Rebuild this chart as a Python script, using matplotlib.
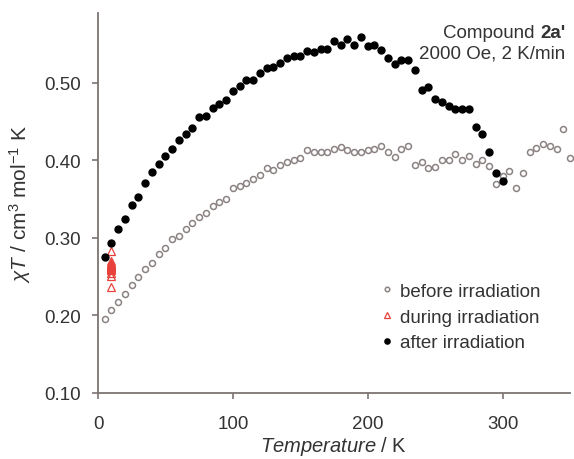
import numpy as np
import matplotlib
matplotlib.use("Agg")
import matplotlib.pyplot as plt
from matplotlib.offsetbox import TextArea, HPacker, VPacker, AnchoredOffsetbox

plt.rcParams['font.family'] = ['Liberation Sans', 'DejaVu Sans']
plt.rcParams['mathtext.fontset'] = 'custom'
plt.rcParams['mathtext.rm'] = 'Liberation Sans'
plt.rcParams['mathtext.it'] = 'Liberation Sans:italic'
plt.rcParams['mathtext.bf'] = 'Liberation Sans:bold'

## datos
T_before = np.arange(5, 355, 5)
chi_before = [0.196, 0.2075, 0.217, 0.228, 0.239, 0.250, 0.260, 0.268, 0.279, 0.287,
              0.298, 0.302, 0.312, 0.319, 0.327, 0.332, 0.341, 0.346, 0.350, 0.364,
              0.367, 0.371, 0.376, 0.381, 0.390, 0.388, 0.394, 0.398, 0.400, 0.403,
              0.413, 0.411, 0.411, 0.411, 0.414, 0.417, 0.413, 0.411, 0.411, 0.413,
              0.415, 0.419, 0.411, 0.404, 0.415, 0.418, 0.394, 0.398, 0.390, 0.392,
              0.400, 0.401, 0.408, 0.401, 0.406, 0.395, 0.401, 0.393, 0.370, 0.380,
              0.386, 0.364, 0.384, 0.411, 0.416, 0.421, 0.419, 0.414, 0.441, 0.403]

T_after = np.arange(5, 305, 5)
chi_after = [0.275, 0.2935, 0.3116, 0.325, 0.342, 0.353, 0.371, 0.385, 0.395, 0.406,
             0.414, 0.4256, 0.434, 0.4416, 0.4557, 0.457, 0.467, 0.473, 0.478, 0.489,
             0.4965, 0.503, 0.504, 0.513, 0.519, 0.520, 0.526, 0.532, 0.534, 0.534,
             0.541, 0.540, 0.543, 0.543, 0.554, 0.549, 0.556, 0.549, 0.559, 0.548,
             0.549, 0.542, 0.532, 0.524, 0.529, 0.529, 0.517, 0.491, 0.494, 0.479,
             0.475, 0.470, 0.466, 0.466, 0.466, 0.443, 0.434, 0.411, 0.384, 0.374]

T_during = [10] * 14
chi_during = [0.283, 0.270, 0.268, 0.266, 0.265, 0.264, 0.263, 0.262, 0.261, 0.260,
              0.258, 0.255, 0.251, 0.237]

gris = '#8c8282'
eje = '#7d7373'
texto = '#333333'

fig = plt.figure(figsize=(5.74, 4.60), dpi=100)
ax = fig.add_axes([98/574, 1 - 394/460, 472/574, 380/460])

ax.plot(T_before, chi_before, 'o', ms=4.3, mfc='none', mec=gris, mew=1.1,
        label='before irradiation', clip_on=False)
ax.plot(T_during, chi_during, '^', ms=5.5, mfc='none', mec='#e8403a', mew=0.9,
        label='during irradiation', clip_on=False)
ax.plot(T_after, chi_after, 'o', ms=5.0, color='black', mec='black',
        label='after irradiation', clip_on=False)

ax.set_xlim(0, 350)
ax.set_ylim(0.10, 0.59)
ax.set_xticks([0, 100, 200, 300])
ax.set_yticks([0.10, 0.20, 0.30, 0.40, 0.50])
ax.set_yticklabels(['0.10', '0.20', '0.30', '0.40', '0.50'])

for s in ['top', 'right']:
    ax.spines[s].set_visible(False)
for s in ['left', 'bottom']:
    ax.spines[s].set_color(eje)
    ax.spines[s].set_linewidth(1.3)
ax.tick_params(axis='both', colors=eje, labelcolor=texto, labelsize=13.5,
               length=4, width=1.2)
ax.tick_params(axis='x', pad=12)
ax.tick_params(axis='y', pad=8)

ax.set_xlabel(r'$\mathit{Temperature}$ / K', fontsize=14.5, color=texto, labelpad=1)
ax.set_ylabel(r'$\chi T$ / cm$^3$ mol$^{-1}$ K', fontsize=15, color=texto, labelpad=8)

leg = ax.legend(loc='center left', bbox_to_anchor=(0.58, 0.20), frameon=False,
                fontsize=13.5, handlelength=0.6, handletextpad=0.4,
                labelspacing=0.45, borderpad=0, markerscale=0.75)
for t in leg.get_texts():
    t.set_color(texto)

## texto arriba a la derecha
linea1 = HPacker(children=[TextArea('Compound ', textprops=dict(fontsize=13.5, color=texto)),
                           TextArea("2a'", textprops=dict(fontsize=13.5, color=texto,
                                                           fontweight='bold'))],
                 align='baseline', pad=0, sep=0)
linea2 = TextArea('2000 Oe, 2 K/min', textprops=dict(fontsize=13.5, color=texto))
caja = VPacker(children=[linea1, linea2], align='right', pad=0, sep=2)
anc = AnchoredOffsetbox(loc='upper right', child=caja, frameon=False,
                        bbox_to_anchor=(0.99, 0.97), bbox_transform=ax.transAxes,
                        borderpad=0, pad=0)
ax.add_artist(anc)

fig.savefig('out.png', dpi=100)
